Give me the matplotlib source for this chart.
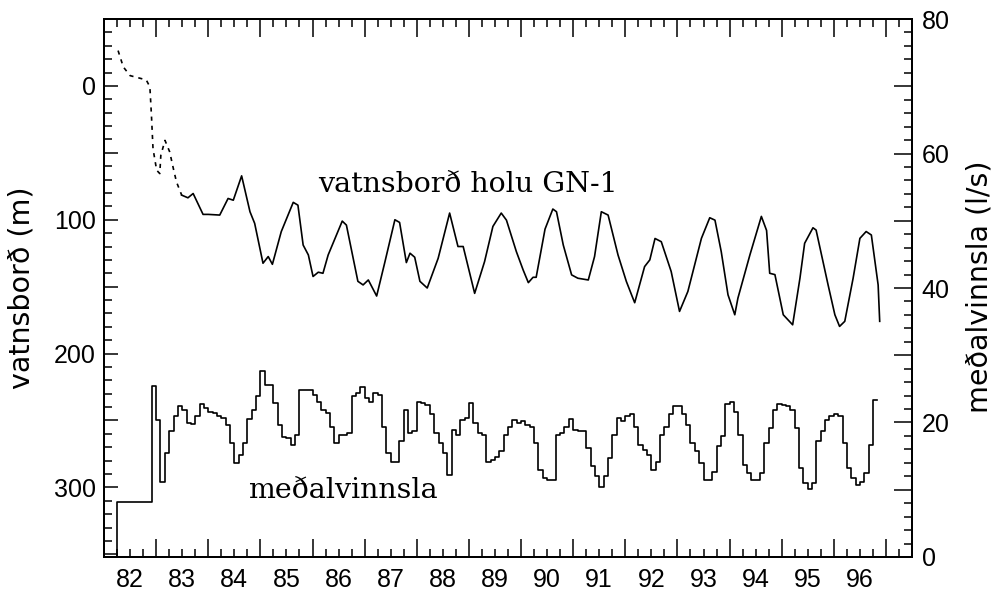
import numpy as np
import matplotlib
matplotlib.use("Agg")
import matplotlib.pyplot as plt
from matplotlib.ticker import MultipleLocator, FuncFormatter, NullFormatter

# water level in well GN-1 (m), x in decimal years (82 = 1982)
level_years = [
    82.27, 82.37, 82.50, 82.81, 82.88, 82.91, 82.94, 83.01, 83.07, 83.09,
    83.17, 83.26, 83.33, 83.39, 83.49,
    83.61, 83.71, 83.90, 84.00, 84.22, 84.38, 84.48, 84.64, 84.80, 84.89,
    85.05, 85.15, 85.23, 85.40, 85.63, 85.72, 85.82, 85.92, 86.01, 86.11,
    86.20, 86.30, 86.57, 86.65, 86.87, 86.97, 87.07, 87.23, 87.39, 87.58,
    87.67, 87.80, 87.87, 87.96, 88.06, 88.20, 88.41, 88.63, 88.79, 88.89,
    89.11, 89.30, 89.46, 89.62, 89.72, 89.91, 90.04, 90.14, 90.23, 90.29,
    90.46, 90.61, 90.68, 90.81, 90.97, 91.09, 91.29, 91.41, 91.54, 91.67,
    91.86, 92.02, 92.12, 92.18, 92.37, 92.47, 92.57, 92.69, 92.88, 93.04,
    93.20, 93.46, 93.62, 93.72, 93.84, 93.97, 94.10, 94.16, 94.39, 94.61,
    94.71, 94.77, 94.87, 95.03, 95.21, 95.35, 95.44, 95.60, 95.66, 95.89,
    96.02, 96.11, 96.21, 96.37, 96.50, 96.62, 96.72, 96.85, 96.88,
]
level_m = [
    -26.4, -14.2, -7.7, -4.5, 0.7, 22.0, 46.9, 63.0, 65.5, 51.8,
    40.7, 49.3, 61.7, 71.7, 81.6,
    83.6, 80.4, 96.0, 96.0, 96.5, 84.1, 85.4, 67.2, 94.0, 102.7,
    132.5, 127.5, 133.3, 108.9, 87.0, 89.1, 118.9, 126.3, 142.4, 139.2,
    140.0, 126.3, 101.0, 104.0, 146.0, 148.7, 145.0, 157.0, 131.3, 100.0,
    102.0, 132.0, 125.0, 128.0, 146.0, 151.0, 128.8, 95.0, 120.0, 120.0,
    155.0, 131.3, 105.0, 95.0, 100.3, 123.8, 137.5, 147.0, 143.0, 143.0,
    107.0, 92.0, 94.0, 118.9, 141.2, 143.7, 145.0, 127.5, 94.0, 96.5,
    126.3, 146.1, 156.1, 162.0, 135.0, 130.0, 114.0, 116.4, 138.7, 168.5,
    153.6, 113.9, 98.5, 100.3, 123.8, 156.1, 171.0, 158.6, 126.3, 97.5,
    108.0, 140.0, 141.0, 171.0, 178.5, 143.7, 117.6, 106.0, 107.7, 148.7,
    171.0, 179.7, 175.9, 143.7, 113.9, 108.8, 111.4, 148.7, 175.9,
]
solid_from = 14  # dashed (uncertain) record up to this point

# monthly mean production (l/s), first month April 1982
prod_start = 82 + 3 / 12
prod_ls = (
    [8.2] * 8 + [25.4]
    + [20.4, 11.2, 15.4, 18.7, 20.9, 22.5, 21.9, 19.9, 19.8, 21.0, 22.8, 22.1]
    + [21.6, 21.4, 20.9, 20.7, 19.7, 16.9, 14.0, 15.2, 16.9, 20.5, 21.9, 24.0]
    + [27.6, 25.6, 25.6, 22.9, 19.6, 17.9, 17.7, 16.7, 18.2, 24.9, 24.9, 24.9]
    + [24.1, 23.0, 21.9, 21.4, 19.4, 17.0, 18.2, 18.2, 18.4, 23.9, 24.4, 25.3]
    + [23.6, 23.1, 24.4, 24.1, 19.4, 15.5, 14.2, 14.1, 17.2, 21.9, 18.4, 18.7]
    + [23.1, 22.9, 22.6, 21.2, 18.4, 16.9, 15.4, 12.2, 18.9, 18.2, 20.4, 20.7]
    + [22.9, 19.9, 18.4, 18.2, 14.2, 14.4, 14.9, 15.7, 18.2, 19.4, 20.4, 19.9]
    + [20.2, 19.7, 19.4, 16.9, 13.0, 11.7, 11.5, 11.5, 18.2, 18.4, 19.4, 20.5]
    + [18.9, 18.7, 18.7, 16.2, 13.5, 12.0, 10.4, 12.0, 14.7, 18.2, 20.7, 20.2]
    + [20.9, 21.3, 19.4, 16.7, 15.9, 15.2, 13.0, 14.2, 18.2, 19.4, 21.2, 22.5]
    + [22.5, 21.2, 19.7, 16.9, 15.7, 14.0, 11.5, 11.5, 12.7, 16.5, 18.0, 22.8]
    + [23.0, 21.5, 18.2, 13.7, 12.5, 11.5, 11.5, 12.5, 16.9, 19.2, 21.9, 22.8]
    + [22.6, 22.4, 21.9, 19.2, 13.2, 11.0, 10.1, 11.0, 17.2, 18.7, 20.4, 20.9]
    + [21.2, 20.9, 16.9, 13.2, 11.7, 10.7, 11.2, 12.5, 16.7, 23.4]
)

plt.rcParams["font.family"] = ["Liberation Sans", "DejaVu Sans"]

fig = plt.figure(figsize=(10.02, 5.94), dpi=100)
ax = fig.add_axes([0.1038, 0.0623, 0.8064, 0.9057])
ax2 = ax.twinx()

# water level
ax.plot(level_years[:solid_from + 1], level_m[:solid_from + 1], color="black",
        lw=1.2, ls=(0, (2.5, 3)))
ax.plot(level_years[solid_from:], level_m[solid_from:], color="black", lw=1.2)

# production, monthly steps
n = len(prod_ls)
edges = prod_start + np.arange(n + 1) / 12
xs = np.r_[edges[0], edges]
ys = np.r_[0, prod_ls, prod_ls[-1]]
ax2.step(xs, ys, where="post", color="black", lw=1.2)

ax.set_xlim(82, 97.5)
ax.set_ylim(352, -50)
ax2.set_ylim(0, 80)

# x axis: year ticks, labels in the middle of each year
ax.xaxis.set_major_locator(MultipleLocator(1))
ax.xaxis.set_major_formatter(NullFormatter())
ax.xaxis.set_minor_locator(MultipleLocator(0.25))
ax.xaxis.set_minor_formatter(FuncFormatter(
    lambda v, p: f"{int(v)}" if abs(v % 1 - 0.5) < 1e-6 and v < 97 else ""))
ax.tick_params(axis="x", which="both", direction="in", top=True, bottom=True, width=1.1)
ax.tick_params(axis="x", which="major", length=13)
ax.tick_params(axis="x", which="minor", length=6, pad=8, labelsize=18)

# left axis
ax.yaxis.set_major_locator(MultipleLocator(50))
ax.yaxis.set_major_formatter(FuncFormatter(
    lambda v, p: f"{int(v)}" if v >= 0 and round(v) % 100 == 0 else ""))
ax.yaxis.set_minor_locator(MultipleLocator(10))
ax.tick_params(axis="y", which="both", direction="in", width=1.1)
ax.tick_params(axis="y", which="major", length=10, pad=6, labelsize=18)
ax.tick_params(axis="y", which="minor", length=5.5)

# right axis
ax2.yaxis.set_major_locator(MultipleLocator(10))
ax2.yaxis.set_major_formatter(FuncFormatter(
    lambda v, p: f"{int(v)}" if round(v) % 20 == 0 else ""))
ax2.yaxis.set_minor_locator(MultipleLocator(2))
ax2.tick_params(axis="y", which="both", direction="in", width=1.1)
ax2.tick_params(axis="y", which="major", length=13, pad=7, labelsize=18)
ax2.tick_params(axis="y", which="minor", length=6)

for a in (ax, ax2):
    for s in a.spines.values():
        s.set_linewidth(1.4)

ax.set_ylabel("vatnsborð (m)", fontsize=20.5, family="DejaVu Sans")
ax.yaxis.label.set(va="center", rotation_mode="default")
ax.yaxis.set_label_coords(-0.102, 0.5)
ax2.set_ylabel("meðalvinnsla (l/s)", fontsize=20.5, family="DejaVu Sans", rotation=90)
ax2.yaxis.label.set(va="center", rotation_mode="default")
ax2.yaxis.set_label_coords(1.084, 0.503)

ax.text(88.98, 79, "vatnsborð holu GN-1", ha="center", va="baseline",
        family="DejaVu Serif", fontsize=20.5)
ax2.text(86.59, 8.8, "meðalvinnsla", ha="center", va="baseline",
         family="DejaVu Serif", fontsize=20.5)

fig.savefig("out.png", dpi=100)
